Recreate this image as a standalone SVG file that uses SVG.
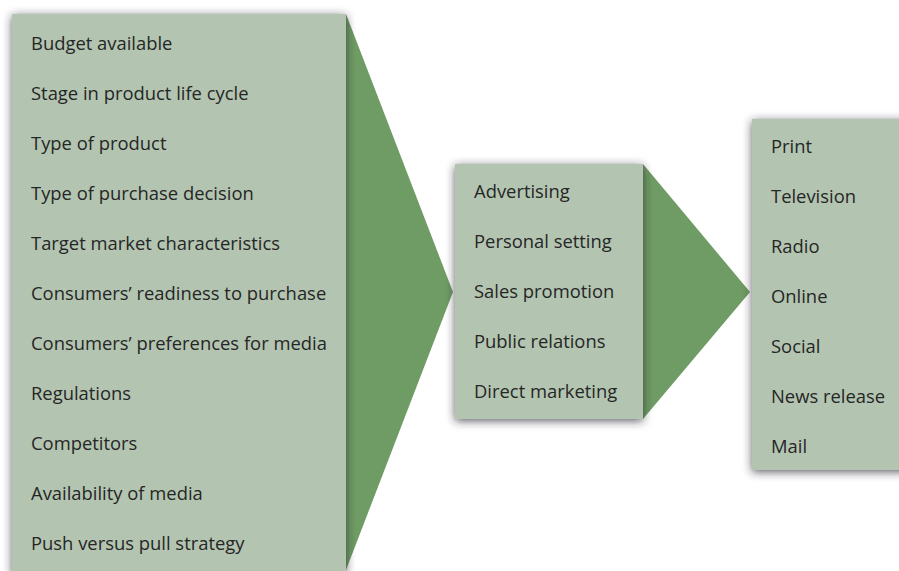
<svg xmlns="http://www.w3.org/2000/svg" width="899" height="571" viewBox="0 0 899 571">
<defs>
<filter id="sh" x="-20%" y="-20%" width="140%" height="140%">
<feDropShadow dx="0" dy="2" stdDeviation="5" flood-color="#2a2a33" flood-opacity="0.75"/>
</filter>
<style>
.box{fill:#b3c5b1;filter:url(#sh);}
.tri{fill:#6f9b64;}
text{font-family:"Open Sans","Noto Sans",sans-serif;font-size:18.4px;fill:#262626;}
</style>
</defs>
<rect width="899" height="571" fill="#ffffff"/>
<g id="connectors">
<polygon class="tri" points="330,14 346,14 453,292 346,570 330,570"/>
<polygon class="tri" points="630,164 643,164 750,292 643,419 630,419"/>
</g>
<g id="factors">
<rect class="box" x="12" y="14" width="334" height="560"/>
<text x="31" y="50">Budget available</text>
<text x="31" y="100">Stage in product life cycle</text>
<text x="31" y="150">Type of product</text>
<text x="31" y="200">Type of purchase decision</text>
<text x="31" y="250">Target market characteristics</text>
<text x="31" y="300">Consumers’ readiness to purchase</text>
<text x="31" y="350">Consumers’ preferences for media</text>
<text x="31" y="400">Regulations</text>
<text x="31" y="450">Competitors</text>
<text x="31" y="500">Availability of media</text>
<text x="31" y="550">Push versus pull strategy</text>
</g>
<g id="promotion-mix">
<rect class="box" x="455" y="164" width="188" height="255"/>
<text x="474" y="198">Advertising</text>
<text x="474" y="248">Personal setting</text>
<text x="474" y="298">Sales promotion</text>
<text x="474" y="348">Public relations</text>
<text x="474" y="398">Direct marketing</text>
</g>
<g id="media">
<rect class="box" x="752" y="119" width="160" height="351"/>
<text x="771" y="153">Print</text>
<text x="771" y="203">Television</text>
<text x="771" y="253">Radio</text>
<text x="771" y="303">Online</text>
<text x="771" y="353">Social</text>
<text x="771" y="403">News release</text>
<text x="771" y="453">Mail</text>
</g>
</svg>
